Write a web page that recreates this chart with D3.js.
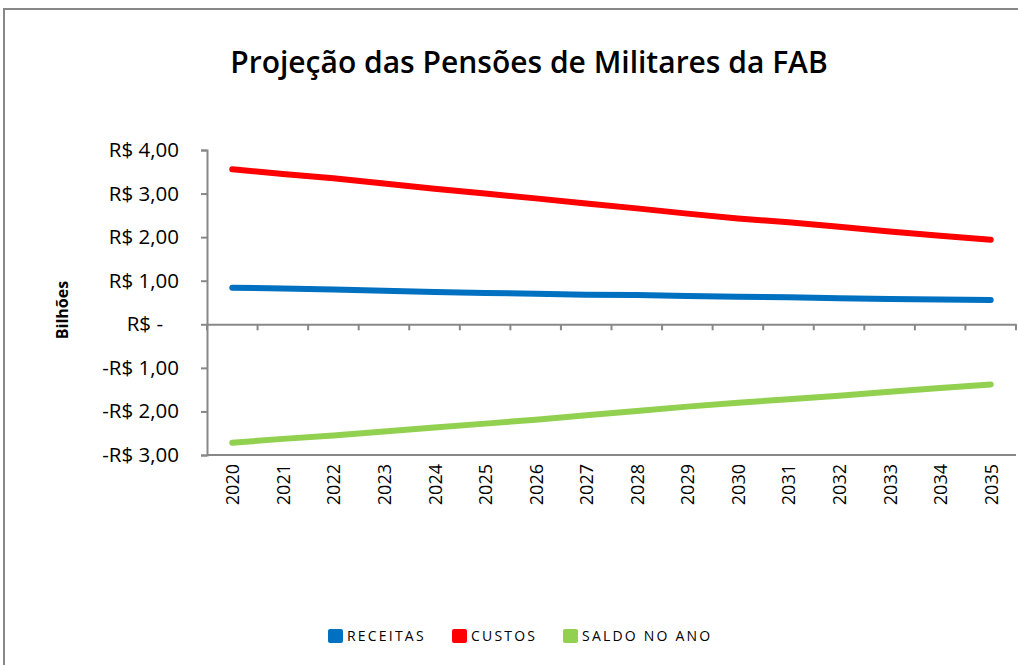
<!DOCTYPE html>
<html>
<head>
<meta charset="utf-8">
<script src="https://cdn.jsdelivr.net/npm/d3@7"></script>
<style>
  body { margin: 0; background: #fff; }
  svg text { font-family: "Open Sans", "Noto Sans", sans-serif; }
</style>
</head>
<body>
<div id="chart"></div>
<script>
var years = ["2020","2021","2022","2023","2024","2025","2026","2027","2028","2029","2030","2031","2032","2033","2034","2035"];
var receitas = [0.84,0.82,0.80,0.77,0.74,0.72,0.70,0.68,0.67,0.65,0.63,0.62,0.60,0.58,0.57,0.56];
var custos = [3.56,3.45,3.35,3.23,3.11,3.00,2.89,2.77,2.66,2.54,2.43,2.34,2.24,2.13,2.03,1.94];
var saldo = [-2.72,-2.63,-2.55,-2.46,-2.37,-2.28,-2.19,-2.09,-1.99,-1.89,-1.80,-1.72,-1.64,-1.55,-1.46,-1.38];
var yTicks = [4,3,2,1,0,-1,-2,-3];
var seriesNames = ["RECEITAS","CUSTOS","SALDO NO ANO"];
var seriesColors = ["#0070C0","#FF0000","#92D050"];

var W = 1018, H = 665;
var svg = d3.select("#chart").append("svg").attr("width",W).attr("height",H);

// chart frame
svg.append("rect").attr("x",4).attr("y",9).attr("width",W+10).attr("height",H+10)
   .style("fill","#fff").style("stroke","#888").style("stroke-width",2);

svg.append("text").attr("x",529).attr("y",73).attr("text-anchor","middle")
   .style("font-size","30px").style("font-weight","600").text("Projeção das Pensões de Militares da FAB");

var pLeft = 207, pRight = 1016, pTop = 150, pBottom = 455;

var x = d3.scaleBand().domain(years).range([pLeft,pRight]);
var y = d3.scaleLinear().domain([-3,4]).range([pBottom,pTop]);

// y axis
var fmt = function(v){
    if(v==0) return "R$ -\u00a0\u00a0\u00a0";
    var s = "R$ " + d3.format(".2f")(Math.abs(v)).replace(".",",");
    return v<0 ? "-"+s : s;
};
var yAxis = svg.append("g").attr("transform","translate("+pLeft+",0)")
   .call(d3.axisLeft(y).tickValues(yTicks).tickSize(6).tickPadding(22).tickFormat(fmt));
yAxis.select(".domain").style("stroke","#888").style("stroke-width",2);
yAxis.selectAll(".tick line").style("stroke","#888").style("stroke-width",2);
yAxis.selectAll(".tick text").style("font-size","20.5px").style("fill","#000");

// bottom line of plot
svg.append("line").attr("x1",pLeft).attr("x2",pRight).attr("y1",pBottom).attr("y2",pBottom)
   .style("stroke","#888").style("stroke-width",2);

// x axis at zero
var xAxis = svg.append("g").attr("transform","translate(0,"+y(0)+")")
   .call(d3.axisBottom(x).tickSize(0).tickFormat(""));
xAxis.select(".domain").style("stroke","#888").style("stroke-width",2);
var bounds = years.map(function(d){ return x(d); }).concat([pRight]);
xAxis.selectAll(".bnd").data(bounds).enter().append("line")
   .attr("x1",function(d){return d;}).attr("x2",function(d){return d;})
   .attr("y1",0).attr("y2",6).style("stroke","#888").style("stroke-width",2);

// year labels
svg.selectAll(".yr").data(years).enter().append("text")
   .attr("transform",function(d){ return "translate("+(x(d)+x.bandwidth()/2+7)+","+(pBottom+9)+") rotate(-90)"; })
   .attr("text-anchor","end").style("font-size","18px").text(function(d){return d;});

// Y label
svg.append("text").attr("transform","translate(68,310) rotate(-90)").attr("text-anchor","middle")
   .style("font-size","16px").style("font-weight","bold").text("Bilhões");

// lines
var line = d3.line().x(function(d,i){ return x(years[i])+x.bandwidth()/2; }).y(function(d){ return y(d); });
[receitas,custos,saldo].forEach(function(s,i){
    svg.append("path").datum(s).attr("d",line)
       .style("fill","none").style("stroke",seriesColors[i]).style("stroke-width",6)
       .style("stroke-linecap","round");
});

// legend
var legX = [328,452,563];
seriesNames.forEach(function(n,i){
    svg.append("rect").attr("x",legX[i]).attr("y",629).attr("width",15).attr("height",14).attr("rx",2)
       .style("fill",seriesColors[i]);
    svg.append("text").attr("x",legX[i]+19).attr("y",641).style("font-size","14px")
       .style("letter-spacing","2.2px").text(n);
});
</script>
</body>
</html>
